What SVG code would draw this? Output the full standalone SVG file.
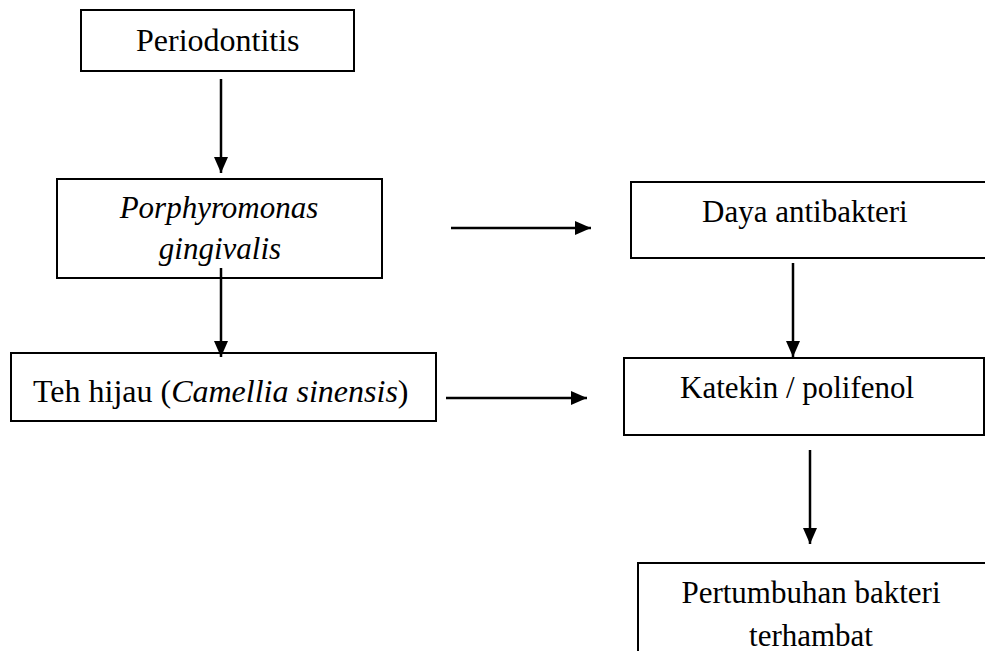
<svg xmlns="http://www.w3.org/2000/svg" width="985" height="651" viewBox="0 0 985 651">
<style>
.box{fill:#fff;stroke:#000;stroke-width:2}
.t{font-family:"Liberation Serif","Times New Roman",serif;font-size:31px;fill:#000}
.i{font-style:italic}
.c{stroke:#000;stroke-width:2.5;fill:none}
</style>
<defs>
<marker id="ah" markerUnits="userSpaceOnUse" markerWidth="16" markerHeight="16" viewBox="0 0 16 16" refX="16" refY="8" orient="auto">
<path d="M0,1 L16,8 L0,15 Z" fill="#000"/>
</marker>
</defs>
<rect width="985" height="651" fill="#fff"/>
<g id="n-periodontitis">
<rect class="box" x="81" y="10" width="273" height="61"/>
<text class="t" x="136" y="51" style="font-size:32px">Periodontitis</text>
</g>
<g id="n-porphyromonas">
<rect class="box" x="57" y="179" width="325" height="99"/>
<text class="t i" x="219" y="218" text-anchor="middle">Porphyromonas</text>
<text class="t i" x="220" y="259" text-anchor="middle">gingivalis</text>
</g>
<g id="n-tehhijau">
<rect class="box" x="11" y="353" width="425" height="68"/>
<text class="t" x="33" y="402" style="font-size:32px">Teh hijau (<tspan class="i">Camellia sinensis</tspan>)</text>
</g>
<g id="n-daya">
<rect class="box" x="631" y="182" width="370" height="76"/>
<text class="t" x="702" y="222">Daya antibakteri</text>
</g>
<g id="n-katekin">
<rect class="box" x="624" y="358" width="360" height="77"/>
<text class="t" x="680" y="398">Katekin / polifenol</text>
</g>
<g id="n-pertumbuhan">
<rect class="box" x="638" y="563" width="370" height="110"/>
<text class="t" x="811" y="603" text-anchor="middle">Pertumbuhan bakteri</text>
<text class="t" x="811" y="646" text-anchor="middle">terhambat</text>
</g>
<g id="connectors">
<line class="c" x1="221" y1="79" x2="221" y2="173" marker-end="url(#ah)"/>
<line class="c" x1="221" y1="268" x2="221" y2="357" marker-end="url(#ah)"/>
<line class="c" x1="451" y1="228" x2="591" y2="228" marker-end="url(#ah)"/>
<line class="c" x1="446" y1="398" x2="587" y2="398" marker-end="url(#ah)"/>
<line class="c" x1="793" y1="263" x2="793" y2="357" marker-end="url(#ah)"/>
<line class="c" x1="810" y1="450" x2="810" y2="544" marker-end="url(#ah)"/>
</g>
</svg>
